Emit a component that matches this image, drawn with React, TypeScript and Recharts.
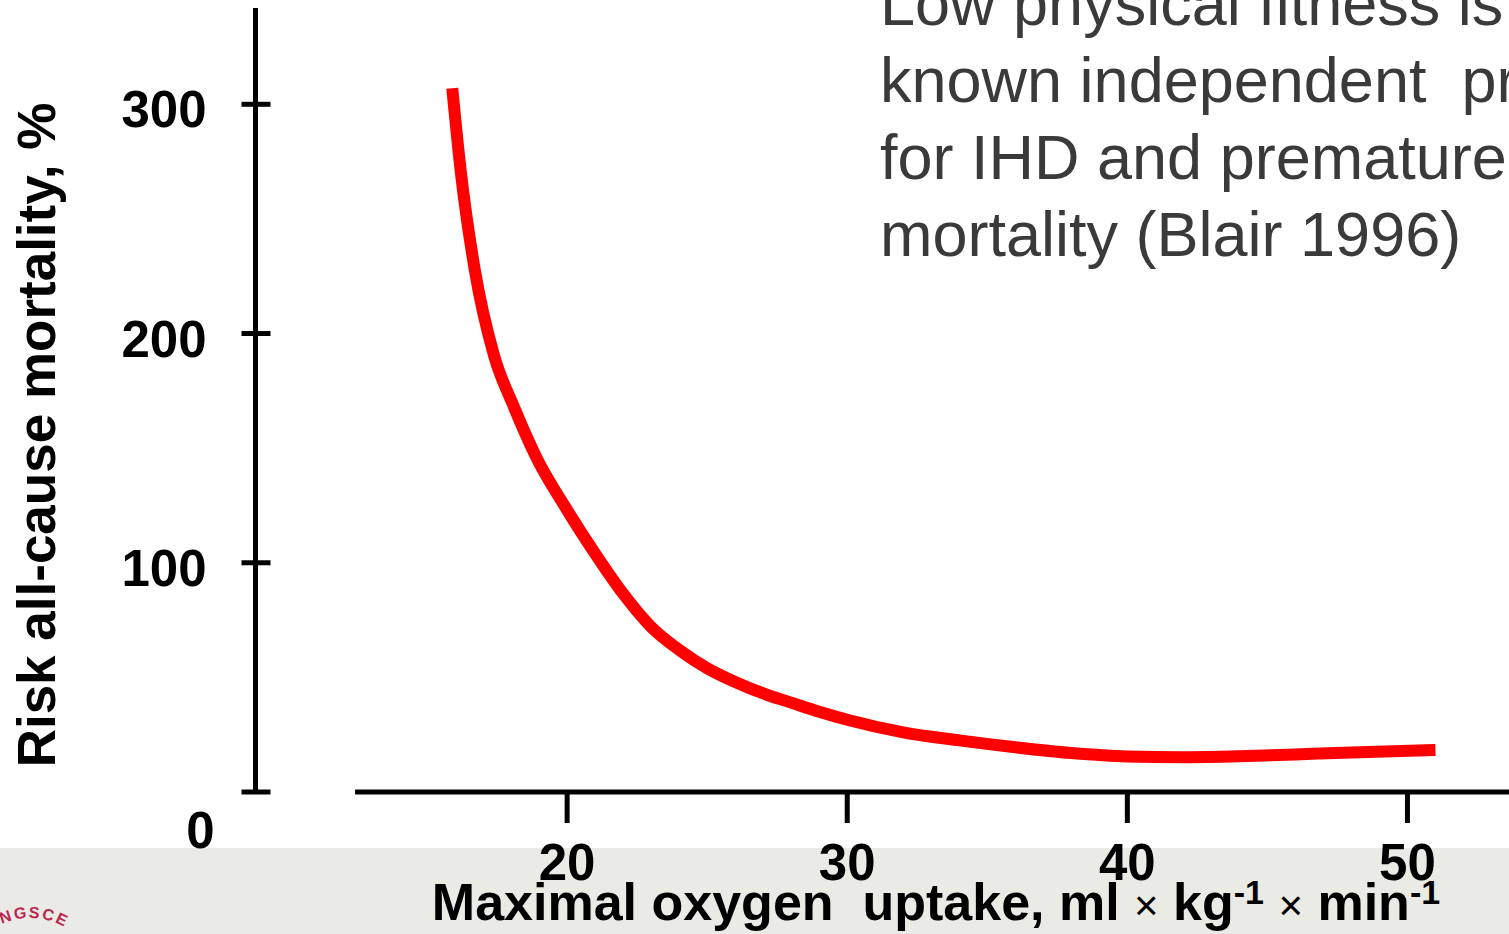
import { LineChart, Line, XAxis, YAxis, ReferenceLine } from "recharts";

const FONT = '"Liberation Sans", Arial, Helvetica, sans-serif';

// maximal oxygen uptake (ml/kg/min) vs relative all-cause mortality risk (%)
const vo2Max = [
	15.9, 16.2, 16.7, 17.4, 18.1, 18.9, 20, 21, 22, 23, 24, 25, 26, 27, 28, 29, 30, 32, 34, 36, 38, 40, 42, 44, 46, 48,
	51,
];
const mortalityRisk = [
	307, 271, 228, 190, 168, 146, 123, 104, 86.5, 72, 62, 54, 48, 43, 39, 35, 31.5, 26, 22.5, 19.5, 17, 15.5, 15.2,
	15.6, 16.4, 17.2, 18.3,
];

const xTicks = [20, 30, 40, 50];
const yTicks = [0, 100, 200, 300];

const annotationLines = [
	"Low physical fitness is a",
	"known independent  predictor",
	"for IHD and premature",
	"mortality (Blair 1996)",
];

const data = vo2Max.map((x, i) => ({ x, risk: mortalityRisk[i] }));

const YTick = (props: any) => {
	const { x, y, payload } = props;
	const isZero = payload.value === 0;
	return (
		<g>
			<line x1={x - 14} x2={x + 15} y1={y} y2={y} stroke="#000" strokeWidth={5} />
			<text
				x={isZero ? x - 41 : x - 49}
				y={isZero ? y + 56 : y + 23}
				textAnchor="end"
				fontSize={51}
				fontWeight="bold"
				fontFamily={FONT}
				fill="#000"
			>
				{payload.value}
			</text>
		</g>
	);
};

const XTick = (props: any) => {
	const { x, y, payload } = props;
	return (
		<text x={x} y={y + 57} textAnchor="middle" fontSize={51} fontWeight="bold" fontFamily={FONT} fill="#000">
			{payload.value}
		</text>
	);
};

const XTitle = () => (
	<text
		x={936}
		y={920}
		textAnchor="middle"
		fontSize={52}
		fontWeight="bold"
		fontFamily={FONT}
		fill="#000"
		style={{ whiteSpace: "pre" }}
	>
		{"Maximal oxygen  uptake, ml "}
		<tspan fontWeight="normal" fontSize={42}>{"×"}</tspan>
		{" kg"}
		<tspan fontSize={34} dy={-16}>{"-1"}</tspan>
		<tspan dy={16}>{" "}</tspan>
		<tspan fontWeight="normal" fontSize={42}>{"×"}</tspan>
		{" min"}
		<tspan fontSize={34} dy={-16}>{"-1"}</tspan>
	</text>
);

const YTitle = () => (
	<text
		x={55}
		y={435}
		transform="rotate(-90, 55, 435)"
		textAnchor="middle"
		fontSize={53}
		fontWeight="bold"
		fontFamily={FONT}
		fill="#000"
	>
		Risk all-cause mortality, %
	</text>
);

export default function App() {
	return (
		<div
			style={{
				position: "absolute",
				left: 0,
				top: 0,
				width: 1509,
				height: 934,
				overflow: "hidden",
				background: "#fff",
				fontFamily: FONT,
			}}
		>
			{/* grey footer band of the slide */}
			<div style={{ position: "absolute", left: 0, top: 848, width: 1509, height: 86, background: "#EBEBE5" }} />
			<svg style={{ position: "absolute", left: 0, top: 880 }} width={120} height={54}>
				<defs>
					<path id="logoArc" d="M -40 108 A 70 70 0 0 1 100 108" />
				</defs>
				<text fontSize={16} fontWeight="bold" fill="#bd2450" fontFamily={FONT} letterSpacing={2}>
					<textPath href="#logoArc" startOffset={74}>
						INGSCE
					</textPath>
				</text>
			</svg>

			<div style={{ position: "absolute", left: 0, top: 0 }}>
				<LineChart width={1516} height={934} data={data} margin={{ top: 8, right: 0, bottom: 0, left: 0 }}>
					<XAxis
						dataKey="x"
						type="number"
						domain={[8.875, 53.875]}
						ticks={xTicks}
						interval={0}
						allowDataOverflow
						height={142}
						axisLine={false}
						stroke="#000"
						tickSize={31}
						tickMargin={0}
						tickLine={{ stroke: "#000", strokeWidth: 5 }}
						tick={<XTick />}
						label={{ content: () => <XTitle /> }}
					/>
					<YAxis
						type="number"
						domain={[0, 342]}
						ticks={yTicks}
						interval={0}
						width={255.5}
						axisLine={{ stroke: "#000", strokeWidth: 5 }}
						tickLine={false}
						tickSize={0}
						tickMargin={0}
						tick={<YTick />}
						label={{ content: () => <YTitle /> }}
					/>
					<ReferenceLine
						segment={[
							{ x: 12.43, y: 0 },
							{ x: 53.875, y: 0 },
						]}
						stroke="#000"
						strokeWidth={5}
						ifOverflow="visible"
					/>
					<Line
						type="monotone"
						dataKey="risk"
						stroke="#ff0000"
						strokeWidth={12}
						dot={false}
						activeDot={false}
						isAnimationActive={false}
					/>
				</LineChart>
			</div>

			<div
				style={{
					position: "absolute",
					left: 880,
					top: -35,
					fontSize: 63,
					lineHeight: "77px",
					color: "#3a3a3a",
					whiteSpace: "pre",
				}}
			>
				{annotationLines.map((line) => (
					<div key={line}>{line}</div>
				))}
			</div>
		</div>
	);
}
